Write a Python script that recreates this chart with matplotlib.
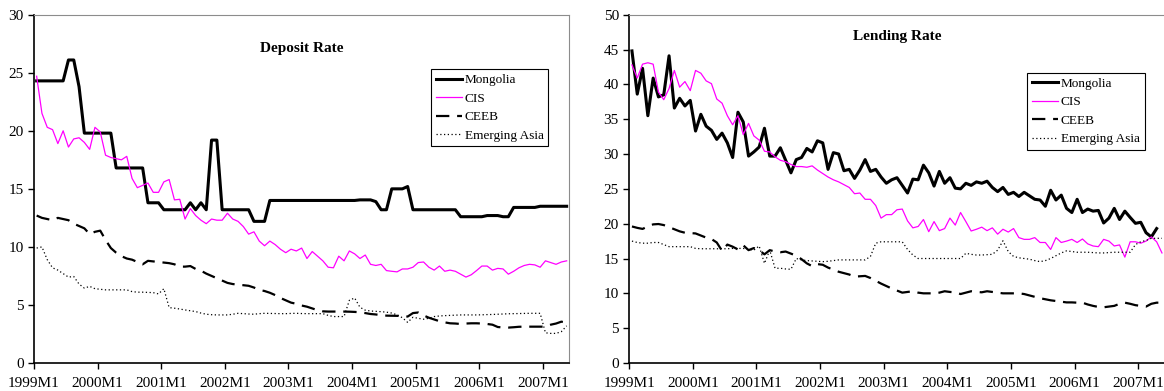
import matplotlib.pyplot as plt
import numpy as np

plt.rcParams['font.family'] = ['Liberation Serif', 'DejaVu Serif']

years = ['1999M1', '2000M1', '2001M1', '2002M1', '2003M1', '2004M1', '2005M1', '2006M1', '2007M1']
series_names = ['Mongolia', 'CIS', 'CEEB', 'Emerging Asia']

# deposit rates, monthly 1999M1 - 2007M5
dep_mongolia = [24.3, 24.3, 24.3, 24.3, 24.3, 24.3, 26.1, 26.1, 23.8, 19.8,
                19.8, 19.8, 19.8, 19.8, 19.8, 16.8, 16.8, 16.8, 16.8, 16.8,
                16.8, 13.8, 13.8, 13.8, 13.2, 13.2, 13.2, 13.2, 13.2, 13.8,
                13.2, 13.8, 13.2, 19.2, 19.2, 13.2, 13.2, 13.2, 13.2, 13.2,
                13.2, 12.2, 12.2, 12.2, 14.0, 14.0, 14.0, 14.0, 14.0, 14.0,
                14.0, 14.0, 14.0, 14.0, 14.0, 14.0, 14.0, 14.0, 14.0, 14.0,
                14.0, 14.05, 14.05, 14.05, 13.9, 13.2, 13.2, 15.0, 15.0, 15.0,
                15.2, 13.2, 13.2, 13.2, 13.2, 13.2, 13.2, 13.2, 13.2, 13.2,
                12.6, 12.6, 12.6, 12.6, 12.6, 12.7, 12.7, 12.7, 12.6, 12.6,
                13.4, 13.4, 13.4, 13.4, 13.4, 13.5, 13.5, 13.5, 13.5, 13.5,
                13.5]
dep_cis = [24.7, 21.5, 20.3, 20.1, 18.9, 20.0, 18.6, 19.3, 19.4, 19.0,
           18.4, 20.3, 19.9, 17.9, 17.7, 17.6, 17.5, 17.8, 15.9, 15.1,
           15.3, 15.5, 14.7, 14.7, 15.6, 15.8, 14.05, 14.1, 12.4, 13.3,
           12.7, 12.3, 12.0, 12.4, 12.3, 12.3, 12.9, 12.4, 12.2, 11.75,
           11.1, 11.3, 10.5, 10.1, 10.5, 10.2, 9.8, 9.5, 9.8, 9.65,
           9.9, 9.0, 9.6, 9.2, 8.8, 8.25, 8.2, 9.2, 8.8, 9.65,
           9.4, 9.0, 9.3, 8.5, 8.4, 8.5, 7.96, 7.9, 7.85, 8.1,
           8.1, 8.25, 8.65, 8.7, 8.25, 8.0, 8.35, 7.9, 8.0, 7.9,
           7.65, 7.4, 7.6, 7.96, 8.35, 8.35, 8.0, 8.15, 8.1, 7.65,
           7.9, 8.2, 8.4, 8.5, 8.45, 8.25, 8.8, 8.65, 8.5, 8.7,
           8.8]
dep_ceeb = [12.7, 12.5, 12.4, 12.3, 12.5, 12.4, 12.3, 12.0, 11.8, 11.6,
            11.1, 11.3, 11.4, 10.6, 9.9, 9.5, 9.2, 9.0, 8.9, 8.7,
            8.5, 8.8, 8.75, 8.7, 8.65, 8.6, 8.5, 8.3, 8.3, 8.35,
            8.1, 7.95, 7.7, 7.5, 7.3, 7.1, 6.9, 6.8, 6.75, 6.7,
            6.65, 6.5, 6.3, 6.2, 6.05, 5.85, 5.6, 5.4, 5.2, 5.1,
            4.95, 4.85, 4.7, 4.55, 4.45, 4.43, 4.43, 4.43, 4.43, 4.42,
            4.4, 4.37, 4.3, 4.22, 4.18, 4.12, 4.08, 4.07, 4.06, 4.05,
            4.0, 4.3, 4.35, 4.1, 3.9, 3.75, 3.6, 3.5, 3.42, 3.4,
            3.36, 3.4, 3.42, 3.42, 3.4, 3.36, 3.3, 3.1, 3.06, 3.05,
            3.08, 3.12, 3.13, 3.13, 3.13, 3.13, 3.13, 3.3, 3.4, 3.56,
            3.47]
dep_asia = [9.9, 10.0, 8.9, 8.2, 8.0, 7.7, 7.4, 7.45, 6.8, 6.45,
            6.6, 6.4, 6.35, 6.3, 6.3, 6.3, 6.3, 6.3, 6.15, 6.1,
            6.1, 6.08, 6.06, 5.95, 6.4, 4.77, 4.72, 4.65, 4.57, 4.5,
            4.43, 4.3, 4.2, 4.16, 4.14, 4.14, 4.14, 4.2, 4.28, 4.25,
            4.22, 4.2, 4.25, 4.28, 4.27, 4.26, 4.25, 4.25, 4.27, 4.28,
            4.26, 4.25, 4.25, 4.25, 4.25, 4.1, 4.0, 4.0, 4.0, 5.4,
            5.6, 4.8, 4.55, 4.48, 4.45, 4.42, 4.38, 4.3, 4.15, 3.9,
            3.5, 3.94, 3.85, 3.77, 3.85, 4.0, 4.05, 4.08, 4.1, 4.12,
            4.14, 4.14, 4.14, 4.14, 4.15, 4.17, 4.18, 4.2, 4.22, 4.24,
            4.25, 4.26, 4.27, 4.28, 4.28, 4.28, 2.6, 2.55, 2.55, 2.7,
            3.2]

# lending rates, monthly 1999M1 - 2007M5 (Mongolia ends 2007M4)
lend_mongolia = [44.8, 38.6, 42.3, 35.5, 40.9, 38.2, 38.5, 44.1, 36.6, 38.0,
                 36.9, 37.7, 33.3, 35.7, 34.0, 33.4, 32.1, 33.0, 31.6, 29.5,
                 36.0, 34.6, 29.7, 30.3, 31.0, 33.7, 29.7, 29.7, 30.9, 29.1,
                 27.3, 29.2, 29.5, 30.8, 30.3, 31.9, 31.6, 27.8, 30.2, 30.0,
                 27.6, 27.8, 26.5, 27.7, 29.2, 27.5, 27.8, 26.7, 25.8, 26.3,
                 26.6, 25.5, 24.4, 26.4, 26.3, 28.4, 27.3, 25.4, 27.5, 25.8,
                 26.6, 25.1, 25.0, 25.8, 25.5, 26.0, 25.8, 26.1, 25.2, 24.6,
                 25.2, 24.2, 24.5, 23.9, 24.5, 24.0, 23.5, 23.4, 22.5, 24.8,
                 23.4, 24.1, 22.2, 21.6, 23.5, 21.6, 22.1, 21.8, 21.9, 20.1,
                 20.8, 22.2, 20.6, 21.8, 20.9, 20.05, 20.2, 18.7, 18.1, 19.3,
                 np.nan]
lend_cis = [42.8, 40.9, 42.9, 43.1, 42.9, 38.9, 37.8, 39.4, 42.0, 39.6,
            40.4, 39.1, 42.0, 41.6, 40.5, 40.1, 37.9, 37.3, 35.5, 34.2,
            35.5, 32.8, 34.4, 32.6, 32.0, 30.4, 30.3, 29.6, 29.1, 28.9,
            28.5, 28.2, 28.2, 28.1, 28.3, 27.7, 27.2, 26.7, 26.3, 26.0,
            25.6, 25.2, 24.3, 24.4, 23.5, 23.5, 22.6, 20.8, 21.3, 21.3,
            22.0, 22.1, 20.4, 19.4, 19.6, 20.6, 18.85, 20.3, 19.0, 19.3,
            20.8, 19.8, 21.6, 20.3, 18.95, 19.2, 19.5, 19.0, 19.4, 18.5,
            19.2, 18.8, 19.3, 18.0, 17.75, 17.75, 18.0, 17.3, 17.3, 16.3,
            18.0, 17.3, 17.5, 17.75, 17.3, 17.8, 17.1, 16.8, 16.7, 17.75,
            17.5, 16.8, 16.95, 15.2, 17.4, 17.4, 17.2, 17.5, 18.1, 17.4,
            15.8]
lend_ceeb = [19.6, 19.4, 19.25, 19.6, 19.9, 19.95, 19.8, 19.5, 19.2, 18.9,
             18.7, 18.65, 18.6, 18.3, 18.0, 17.8, 17.3, 16.1, 17.0, 16.7,
             16.3, 16.9, 16.2, 16.5, 16.2, 15.6, 16.2, 16.0, 15.9, 16.0,
             15.7, 15.4, 14.9, 14.3, 13.9, 14.2, 14.1, 13.7, 13.4, 13.1,
             12.9, 12.7, 12.4, 12.45, 12.5, 12.2, 11.8, 11.4, 11.05, 10.7,
             10.4, 10.1, 10.2, 10.3, 10.1, 10.0, 10.0, 10.0, 10.1, 10.3,
             10.2, 10.15, 9.9, 10.1, 10.3, 10.2, 10.15, 10.3, 10.2, 10.1,
             10.0, 10.0, 10.0, 10.0, 9.9, 9.7, 9.5, 9.3, 9.15, 9.0,
             8.9, 8.8, 8.7, 8.7, 8.66, 8.66, 8.4, 8.2, 8.05, 8.0,
             8.1, 8.2, 8.5, 8.66, 8.5, 8.3, 8.2, 8.1, 8.5, 8.66,
             8.66]
lend_asia = [17.5, 17.3, 17.2, 17.2, 17.3, 17.3, 17.0, 16.7, 16.7, 16.7,
             16.7, 16.7, 16.45, 16.4, 16.4, 16.4, 16.4, 16.4, 16.4, 16.45,
             16.45, 16.45, 16.3, 16.2, 16.8, 14.3, 16.2, 13.6, 13.6, 13.5,
             13.45, 15.0, 14.8, 14.7, 14.65, 14.6, 14.55, 14.6, 14.7, 14.8,
             14.8, 14.8, 14.8, 14.8, 14.8, 15.3, 17.2, 17.4, 17.4, 17.4,
             17.4, 17.4, 16.3, 15.5, 15.0, 15.0, 15.0, 15.0, 15.0, 15.0,
             15.0, 15.0, 15.0, 15.75, 15.6, 15.5, 15.5, 15.55, 15.6, 16.2,
             17.55, 16.0, 15.3, 15.1, 15.0, 14.9, 14.7, 14.55, 14.7, 15.0,
             15.4, 15.8, 16.1, 16.0, 15.9, 15.9, 15.9, 15.85, 15.8, 15.8,
             15.85, 15.9, 15.9, 15.9, 15.9, 17.0, 17.4, 17.6, 17.9, 17.9,
             17.9]


def panel(ax, data, title, ymax, title_y):
    x = np.arange(len(data[0]))
    ax.plot(x, data[0], color='black', lw=2.2, label=series_names[0])
    ax.plot(x, data[1], color='#ff00ff', lw=0.9, label=series_names[1])
    ax.plot(x, data[2], color='black', lw=1.6, dashes=(6, 3.5), label=series_names[2])
    ax.plot(x, data[3], color='black', lw=0.9, dashes=(1, 2), label=series_names[3])
    ax.set_xlim(-0.5, len(x) - 0.5)
    ax.set_ylim(0, ymax)
    ax.set_yticks(np.arange(0, ymax + 1, 5))
    ax.set_xticks(np.arange(len(years)) * 12 - 0.5)
    ax.set_xticklabels(years)
    ax.tick_params(labelsize=11, direction='out', length=4, width=1)
    ax.tick_params(axis='x', pad=6)
    for s in ['top', 'right']:
        ax.spines[s].set_color('#8c8c8c')
    for s in ['left', 'bottom']:
        ax.spines[s].set_linewidth(1.2)
    ax.text(0.5, title_y, title, transform=ax.transAxes, ha='center', va='center',
            fontsize=11, fontweight='bold')


fig = plt.figure(figsize=(11.64, 3.91), dpi=100)
ax1 = fig.add_axes([34 / 1164, 1 - 363 / 391, 535.3 / 1164, 348.3 / 391])
ax2 = fig.add_axes([629.3 / 1164, 1 - 363 / 391, 535.3 / 1164, 348.3 / 391])

panel(ax1, [dep_mongolia, dep_cis, dep_ceeb, dep_asia], 'Deposit Rate', 30, 0.904)
panel(ax2, [lend_mongolia, lend_cis, lend_ceeb, lend_asia], 'Lending Rate', 50, 0.936)

for ax, (lx, ly) in [(ax1, (431, 69.3)), (ax2, (1027.3, 72.7))]:
    leg = ax.legend(loc='upper left', bbox_to_anchor=(lx / 1164, 1 - ly / 391),
                    bbox_transform=fig.transFigure, fontsize=9.5, frameon=True,
                    fancybox=False, edgecolor='black', framealpha=1,
                    handlelength=2.0, handletextpad=0.2, labelspacing=0.48,
                    borderpad=0.35, borderaxespad=0)
    leg.get_frame().set_linewidth(0.8)

fig.savefig('out.png', dpi=100)
